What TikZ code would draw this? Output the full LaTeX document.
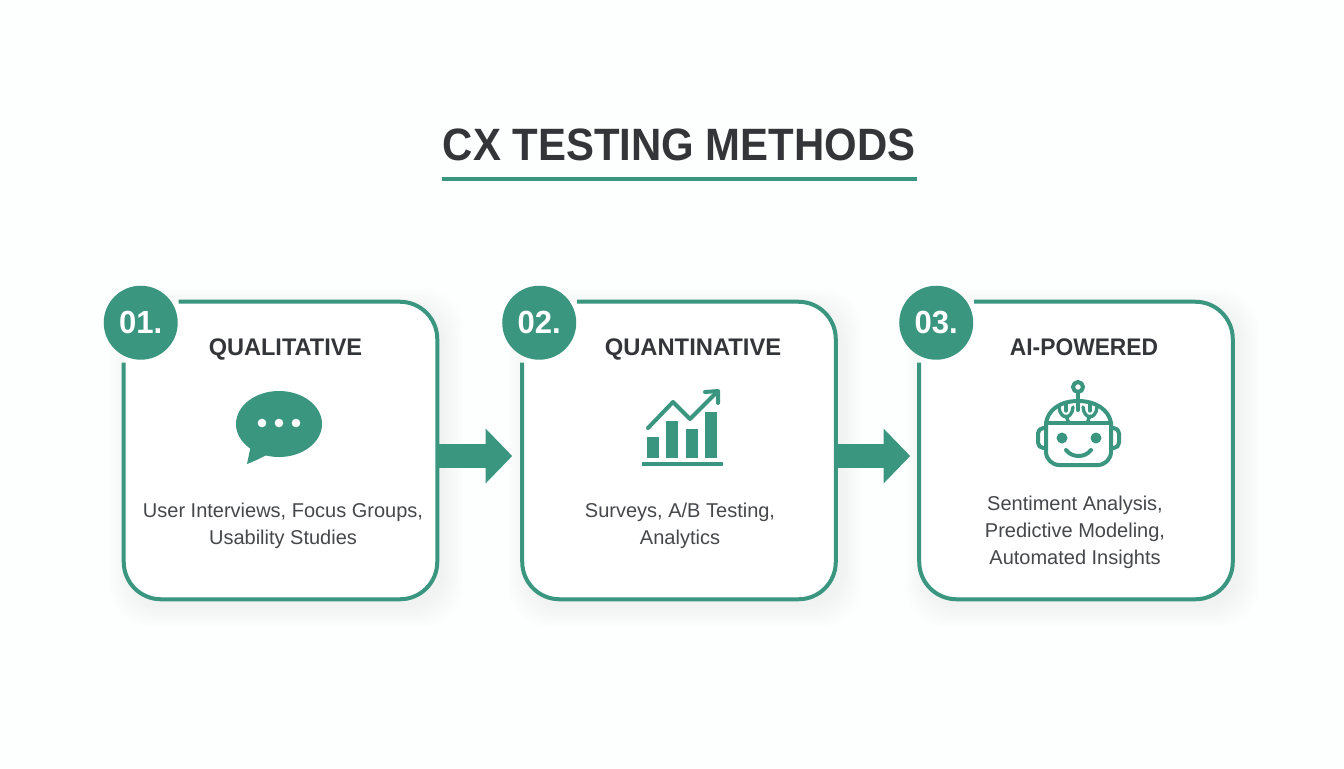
\documentclass[tikz,border=0pt]{standalone}
\usepackage{fontspec}
\setmainfont{Liberation Sans}
\usetikzlibrary{arrows.meta,calc}
\definecolor{teal1}{HTML}{3A967F}
\definecolor{ink}{HTML}{333538}
\definecolor{bodyink}{HTML}{45474A}
\definecolor{bgc}{HTML}{FDFEFE}
\tikzset{
  titletext/.style={font=\fontsize{34}{40}\bfseries\selectfont,text=ink,inner sep=0pt,anchor=base},
  headtext/.style={font=\fontsize{18}{22}\bfseries\selectfont,text=ink,inner sep=0pt,anchor=base},
  bodytext/.style={font=\fontsize{15}{20.3}\selectfont,text=bodyink,align=center,inner sep=0pt},
  numdisc/.style={circle,fill=teal1,text=white,font=\fontsize{24}{28}\bfseries\selectfont,minimum size=55.5pt,inner sep=0pt},
  cardfill/.style={fill=white,rounded corners=28pt,inner sep=0pt,minimum width=234.75pt,minimum height=222.75pt},
  cardline/.style={draw=teal1,line width=3pt,rounded corners=28pt},
  flowarrow/.style={draw=teal1,line width=18pt,-{Triangle[length=20pt,width=40pt,fill=teal1]}},
  iconline/.style={draw=teal1,line width=3pt,line cap=round,line join=round},
  thinline/.style={iconline,line width=2.5pt},
  iconfill/.style={fill=teal1},
}
\newcommand{\cardshadow}[1]{%
  \foreach \s in {1,...,12}{
    \fill[black,opacity=0.005,rounded corners=30pt]
      (#1-156.5-\s*1.7+6,450.5-148.5-\s*1.7+7) rectangle (#1+156.5+\s*1.7+6,450.5+148.5+\s*1.7+7);
  }
}
\newcommand{\card}[3]{% name, centre x, number
  \cardshadow{#2}
  \node[cardfill] (#1) at (#2,450.5) {};
  \draw[cardline] ($(#1.north west)+(55,0)$) -- (#1.north east) -- (#1.south east) -- (#1.south west) -- ($(#1.north west)+(0,61)$);
  \node[numdisc] (#1n) at ($(#1.north west)+(17,21)$) {\scalebox{0.97}[1]{#3}};
}
\begin{document}
\begin{tikzpicture}[x=0.75pt,y=-0.75pt]
\useasboundingbox (0,0) rectangle (1344,768);
\fill[bgc] (0,0) rectangle (1344,768);

\node[titletext] (title) at (679,160) {\scalebox{0.924}[1]{CX TESTING METHODS}};
\coordinate (ruleL) at (442,179);
\coordinate (ruleR) at (917,179);
\draw[teal1,line width=2.4pt] (ruleL) -- (ruleR);

\card{boxa}{280.5}{01.}
\card{boxb}{679}{02.}
\card{boxc}{1076}{03.}

\node[headtext] (heada) at (285.5,355) {\scalebox{0.98}[1]{QUALITATIVE}};
\node[headtext] (headb) at (693,355) {\scalebox{0.99}[1]{QUANTINATIVE}};
\node[headtext] (headc) at (1084,355) {\scalebox{0.95}[1]{AI-POWERED}};

\node[bodytext] (bodya) at (283,525.5) {User Interviews, Focus Groups,\\Usability Studies};
\node[bodytext] (bodyb) at (680,525.5) {Surveys, A/B Testing,\\Analytics};
\node[bodytext] (bodyc) at (1075,532) {Sentiment Analysis,\\Predictive Modeling,\\Automated Insights};

% arrows
\coordinate (a1) at (boxa.east |- 0,456);
\coordinate (a2) at ($(boxb.west |- 0,456)+(-10,0)$);
\coordinate (b1) at (boxb.east |- 0,456);
\coordinate (b2) at ($(boxc.west |- 0,456)+(-9,0)$);
\draw[flowarrow] (a1) -- (a2);
\draw[flowarrow] (b1) -- (b2);

% speech bubble
\fill[iconfill] (279,424) ellipse [x radius=43, y radius=33];
\fill[iconfill] (252,440) -- (247,464) .. controls (255,461) and (263,457) .. (272,452) -- cycle;
\foreach \dx in {262,279,296} \fill[white] (\dx,423) circle [radius=4.3];

% chart
\fill[iconfill] (647,437) rectangle (659,458);
\fill[iconfill] (666,421) rectangle (678,458);
\fill[iconfill] (686,429) rectangle (698,458);
\fill[iconfill] (705,412) rectangle (717,458);
\fill[iconfill] (642,462) rectangle (723,466);
\draw[iconline] (648,428) -- (673,402) -- (690,419) -- (717,392);
\draw[iconline] (705,392) -- (718,391) -- (718,403);

% robot
\draw[iconline] (1078,387) circle [radius=5];
\draw[iconline] (1078,392) -- (1078,410);
\draw[iconline,rounded corners=10pt] (1046,423) -- (1046,465) -- (1111,465) -- (1111,423);
\draw[iconline] (1046,423) -- (1111,423);
\draw[iconline] (1046,423) .. controls (1048,410) and (1060,401) .. (1078,401) .. controls (1096,401) and (1109,410) .. (1111,423);
\draw[iconline,rounded corners=4pt] (1046,428) -- (1038,428) -- (1038,448) -- (1046,448);
\draw[iconline,rounded corners=4pt] (1111,428) -- (1119,428) -- (1119,448) -- (1111,448);
\fill[iconfill] (1062,438) circle [radius=5.5];
\fill[iconfill] (1096,438) circle [radius=5.5];
\draw[iconline] (1066,450) .. controls (1072,458) and (1085,458) .. (1091,450);
\draw[thinline] (1059,407) .. controls (1060,420) and (1072,420) .. (1073,407);
\draw[thinline] (1083,407) .. controls (1084,420) and (1096,420) .. (1097,407);
\draw[thinline] (1066,416) -- (1069,423);
\draw[thinline] (1090,416) -- (1087,423);
\draw[thinline] (1066,404) -- (1066,411);
\draw[thinline] (1090,404) -- (1090,411);
\end{tikzpicture}
\end{document}
